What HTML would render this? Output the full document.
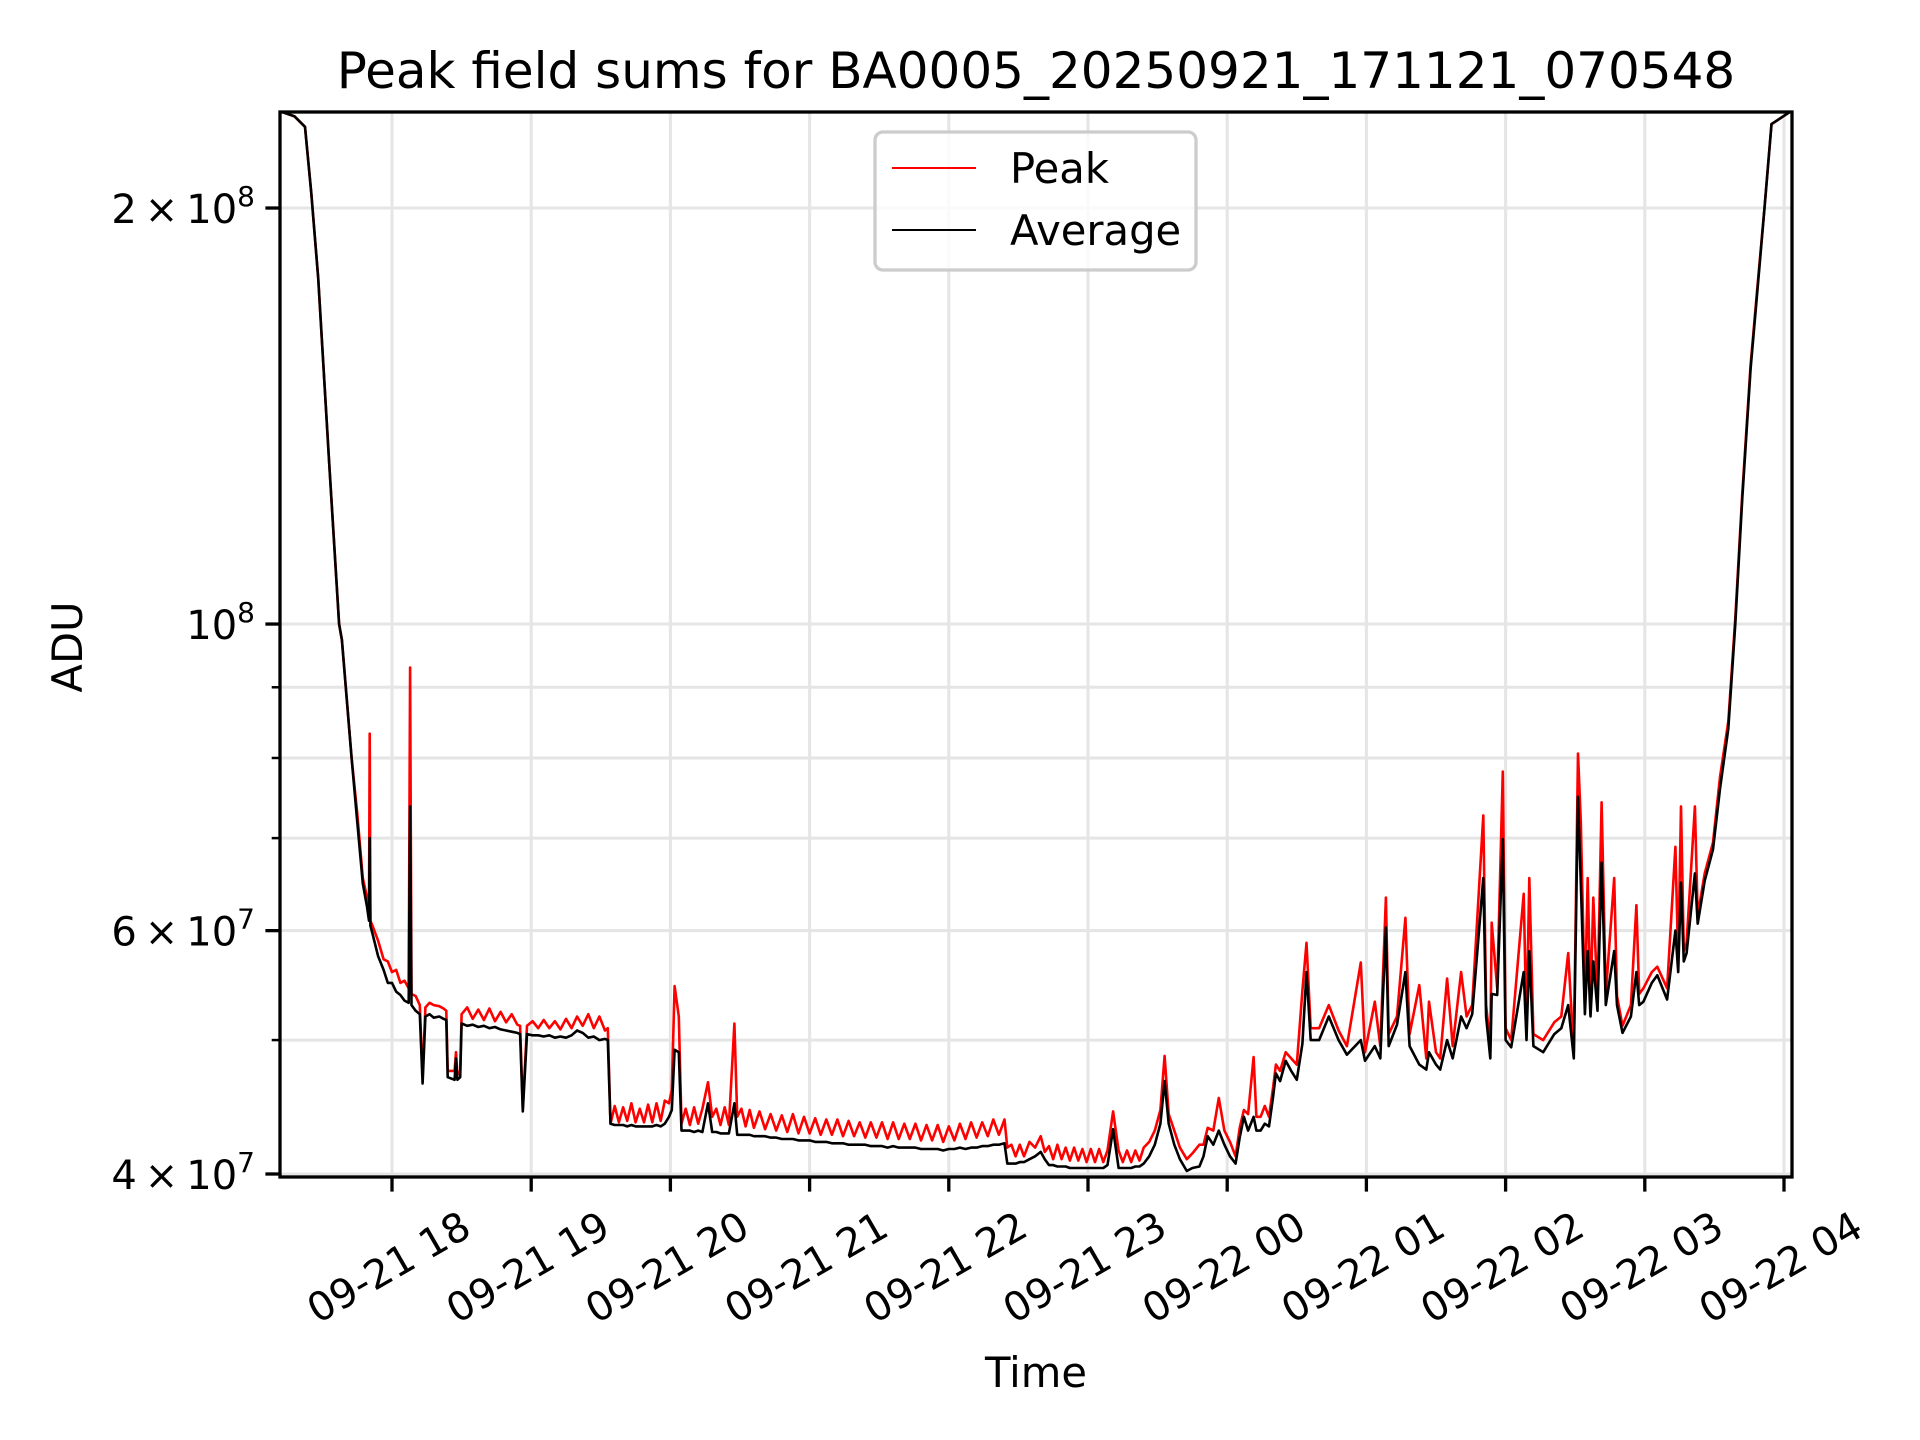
<!DOCTYPE html>
<html><head><meta charset="utf-8"><style>
html,body{margin:0;padding:0;background:#fff;}
svg{display:block;font-family:"DejaVu Sans","Liberation Sans",sans-serif;}
</style></head><body>
<svg id="chart" width="1920" height="1440" viewBox="0 0 1920 1440" xmlns="http://www.w3.org/2000/svg">
<rect x="0" y="0" width="1920" height="1440" fill="#fff"/>
<defs><clipPath id="plotclip"><rect x="280" y="112" width="1512" height="1065"/></clipPath></defs>
<g id="grid"></g>
<g id="series" clip-path="url(#plotclip)"></g>
<rect x="280" y="112" width="1512" height="1065" fill="none" stroke="#000" stroke-width="3.3"/>
<g id="ticks"></g>
<text x="1036" y="88" font-size="50" text-anchor="middle">Peak field sums for BA0005_20250921_171121_070548</text>
<text x="1036" y="1387" font-size="41.7" text-anchor="middle">Time</text>
<text x="0" y="0" font-size="41.7" text-anchor="middle" transform="translate(82,647) rotate(-90)">ADU</text>
<g>
<rect x="875" y="132" width="321" height="138" rx="8" fill="#fff" fill-opacity="0.8" stroke="#ccc" stroke-width="3.3"/>
<line x1="892" y1="168" x2="976" y2="168" stroke="#ff0000" stroke-width="2"/>
<text x="1010" y="183" font-size="41.7">Peak</text>
<line x1="892" y1="230" x2="976" y2="230" stroke="#000" stroke-width="2"/>
<text x="1010" y="245" font-size="41.7">Average</text>
</g>
</svg>
<script>
// hours since 09-21 17:00 (one line per segment; all three arrays share the same segmentation)
const times = [
0.195,0.30,0.375,0.42,0.47,0.55,0.62,0.64,0.71,0.75,0.79,0.82,0.835,0.84,0.845,0.86,0.90,0.94,0.97,1.00,1.03,1.06,1.09,1.12,1.13,1.14,1.17,1.20,1.22,1.24,1.27,1.30,1.34,1.37,1.39,1.40,1.45,1.46,1.47,1.49,
1.50,1.54,1.58,1.62,1.66,1.70,1.74,1.78,1.82,1.86,1.90,1.92,1.94,1.97,2.01,2.05,2.09,2.13,2.17,2.21,2.25,2.29,2.33,2.37,2.41,2.45,2.49,2.53,2.55,
2.57,2.60,2.63,2.66,2.69,2.72,2.75,2.78,2.81,2.84,2.87,2.90,2.93,2.96,2.99,3.01,3.03,3.06,3.08,3.11,3.14,3.17,3.20,3.23,3.27,3.30,3.33,3.36,3.39,3.42,3.46,3.48,3.51,3.54,3.57,3.60,3.64,
3.68,3.72,3.76,3.80,3.84,3.88,3.92,3.96,4.00,4.04,4.08,4.12,4.16,4.20,4.24,4.28,4.32,4.36,4.40,4.44,4.48,4.52,4.56,4.60,4.64,4.68,4.72,4.76,4.80,4.84,4.88,4.92,4.96,5.00,5.04,5.08,5.12,5.16,5.20,5.24,5.28,5.32,5.36,5.40,5.42,
5.45,5.48,5.51,5.54,5.58,5.62,5.66,5.69,5.72,5.75,5.78,5.81,5.84,5.87,5.90,5.93,5.96,5.99,6.02,6.05,6.08,6.11,6.14,6.18,6.22,6.25,6.28,6.31,6.34,6.37,6.40,6.44,6.48,6.52,6.55,6.58,6.62,6.66,6.71,6.75,6.80,6.83,6.86,6.90,6.94,6.98,7.02,7.06,7.09,7.12,7.15,7.19,7.21,7.24,7.27,7.30,7.33,7.35,7.38,7.42,7.46,7.50,7.54,
7.57,7.60,7.66,7.73,7.80,7.86,7.96,7.99,8.06,8.10,8.14,8.16,8.22,8.28,8.31,8.38,8.43,8.45,8.50,8.53,8.58,8.62,8.68,8.72,8.76,8.84,8.86,8.89,8.90,8.94,8.98,9.00,9.04,9.13,9.15,9.17,9.20,9.27,9.35,9.40,9.45,9.49,9.52,9.54,9.57,9.59,9.61,9.63,9.66,9.69,9.72,9.78,9.80,9.84,9.90,9.94,9.96,9.99,10.05,10.09,10.16,10.22,10.24,10.26,10.28,10.30,10.36,10.38,10.43,10.49,10.54,10.60,10.65,10.70,10.76,10.81,10.86,10.91,11.05];
// average values, units of 1e7 ADU
const avgValues = [
23.5,23.3,22.9,20.5,17.8,13.0,10.0,9.74,8.0,7.2,6.49,6.25,6.1,7.0,6.05,5.97,5.75,5.62,5.5,5.5,5.42,5.39,5.34,5.32,7.38,5.3,5.25,5.22,4.65,5.2,5.22,5.19,5.2,5.18,5.17,4.7,4.68,4.85,4.68,4.7,
5.14,5.12,5.13,5.11,5.12,5.10,5.11,5.09,5.08,5.07,5.06,5.05,4.44,5.05,5.04,5.04,5.03,5.04,5.02,5.03,5.02,5.04,5.08,5.06,5.02,5.03,5.0,5.01,5.0,
4.35,4.34,4.34,4.34,4.33,4.34,4.33,4.33,4.33,4.33,4.33,4.34,4.33,4.35,4.4,4.45,4.92,4.9,4.3,4.3,4.3,4.29,4.3,4.29,4.5,4.29,4.29,4.28,4.28,4.28,4.5,4.27,4.27,4.27,4.27,4.26,4.26,
4.26,4.25,4.25,4.24,4.24,4.24,4.23,4.23,4.23,4.22,4.22,4.22,4.21,4.21,4.21,4.2,4.2,4.2,4.2,4.19,4.19,4.19,4.18,4.19,4.18,4.18,4.18,4.18,4.17,4.17,4.17,4.17,4.16,4.17,4.17,4.18,4.17,4.18,4.18,4.19,4.19,4.2,4.2,4.21,4.07,
4.07,4.07,4.08,4.08,4.1,4.12,4.15,4.1,4.06,4.06,4.05,4.05,4.05,4.04,4.04,4.04,4.04,4.04,4.04,4.04,4.04,4.04,4.06,4.31,4.04,4.04,4.04,4.04,4.05,4.05,4.07,4.12,4.2,4.35,4.67,4.35,4.2,4.1,4.02,4.04,4.05,4.12,4.26,4.2,4.3,4.2,4.12,4.07,4.25,4.4,4.3,4.4,4.3,4.3,4.35,4.33,4.55,4.73,4.67,4.83,4.75,4.68,4.97,
5.6,5.0,5.0,5.2,5.0,4.88,5.0,4.83,4.95,4.85,6.03,4.95,5.13,5.6,4.95,4.8,4.76,4.9,4.8,4.76,5.0,4.85,5.2,5.1,5.22,6.55,5.2,4.85,5.4,5.39,6.99,5.0,4.94,5.6,5.0,5.8,4.95,4.9,5.05,5.1,5.3,4.85,7.5,6.5,5.22,5.8,5.2,5.7,5.25,6.72,5.3,5.8,5.3,5.06,5.2,5.6,5.3,5.33,5.5,5.57,5.35,6.0,5.6,6.5,5.7,5.78,6.6,6.07,6.52,6.87,7.6,8.4,10.0,12.3,15.3,17.5,20.0,23.0,23.5];
// peak values, units of 1e7 ADU
const peakValues = [
23.5,23.3,22.9,20.5,17.8,13.0,10.0,9.74,8.0,7.3,6.55,6.35,6.2,8.33,6.1,6.05,5.9,5.72,5.7,5.6,5.62,5.5,5.52,5.45,9.3,5.4,5.38,5.3,4.7,5.28,5.32,5.3,5.29,5.27,5.25,4.75,4.75,4.9,4.72,4.75,
5.22,5.28,5.18,5.26,5.17,5.27,5.16,5.24,5.15,5.22,5.13,5.12,4.46,5.12,5.16,5.1,5.17,5.1,5.16,5.09,5.18,5.1,5.2,5.12,5.22,5.1,5.2,5.08,5.1,
4.35,4.48,4.36,4.47,4.37,4.5,4.36,4.46,4.36,4.49,4.36,4.5,4.37,4.52,4.5,4.6,5.47,5.2,4.35,4.46,4.34,4.47,4.35,4.46,4.66,4.4,4.46,4.34,4.47,4.34,5.14,4.4,4.46,4.33,4.45,4.32,4.44,
4.31,4.42,4.3,4.41,4.29,4.42,4.28,4.4,4.28,4.39,4.27,4.38,4.27,4.38,4.26,4.37,4.26,4.36,4.25,4.36,4.25,4.36,4.24,4.36,4.24,4.35,4.24,4.35,4.23,4.34,4.23,4.34,4.22,4.33,4.23,4.35,4.24,4.36,4.25,4.36,4.26,4.38,4.27,4.38,4.18,
4.2,4.12,4.2,4.12,4.22,4.18,4.26,4.15,4.19,4.1,4.2,4.1,4.18,4.09,4.18,4.09,4.17,4.08,4.17,4.08,4.17,4.08,4.16,4.44,4.16,4.08,4.16,4.08,4.16,4.09,4.18,4.22,4.3,4.45,4.87,4.42,4.3,4.18,4.1,4.14,4.2,4.2,4.32,4.3,4.54,4.3,4.22,4.12,4.32,4.45,4.42,4.86,4.4,4.4,4.48,4.4,4.62,4.8,4.75,4.9,4.85,4.8,5.43,
5.88,5.1,5.1,5.3,5.08,4.95,5.69,4.9,5.33,4.95,6.34,5.05,5.2,6.13,5.05,5.48,4.85,5.33,4.9,4.85,5.54,4.95,5.6,5.2,5.3,7.27,5.3,4.95,6.08,5.45,7.82,5.1,5.0,6.38,5.1,6.55,5.05,5.0,5.15,5.2,5.78,4.9,8.06,7.2,5.3,6.55,5.3,6.34,5.35,7.43,5.4,6.55,5.38,5.12,5.3,6.26,5.4,5.45,5.6,5.65,5.45,6.9,5.7,7.38,5.8,5.88,7.38,6.15,6.6,6.95,7.75,8.5,10.1,12.4,15.4,17.6,20.0,23.0,23.5];
const xTickHours = [1,2,3,4,5,6,7,8,9,10,11];
const xTickLabels = ["09-21 18","09-21 19","09-21 20","09-21 21","09-21 22","09-21 23","09-22 00","09-22 01","09-22 02","09-22 03","09-22 04"];
const yMajorValues = [4,6,10,20];
const yMajorMant = ["4","6","","2"];
const yMajorExp = ["7","7","8","8"];
const yMinorValues = [5,7,8,9];

const NS = "http://www.w3.org/2000/svg";
const PX_PER_HOUR = 139.2, X0 = 392;
function xScale(h){ return X0 + (h - 1) * PX_PER_HOUR; }
function yScale(v){ return 1174 - 1382 * Math.log10(v / 4); }
function mk(tag, attrs, parent){ const e = document.createElementNS(NS, tag); for (const k in attrs) e.setAttribute(k, attrs[k]); parent.appendChild(e); return e; }

const grid = document.getElementById('grid');
const ticks = document.getElementById('ticks');
const series = document.getElementById('series');

xTickHours.forEach((h, i) => {
  const x = xScale(h);
  const g = mk('line', {x1:x, y1:112, x2:x, y2:1177, stroke:'#e5e5e5', 'stroke-width':3}, grid);
  
  
  const t = mk('line', {x1:x, y1:1177, x2:x, y2:1191.6, stroke:'#000', 'stroke-width':3.3}, ticks);
  
  
  const lbl = mk('text', {x:0, y:0, 'font-size':40, 'text-anchor':'middle', 'dominant-baseline':'central', transform:'translate(' + (x - 3) + ',1268) rotate(-30)'}, ticks);
  lbl.textContent = xTickLabels[i];
  
  
});

yMinorValues.concat(yMajorValues).forEach(v => {
  const y = yScale(v);
  const g = mk('line', {x1:280, y1:y, x2:1792, y2:y, stroke:'#e5e5e5', 'stroke-width':3}, grid);
  
  
});
yMinorValues.forEach(v => {
  const y = yScale(v);
  const t = mk('line', {x1:271.7, y1:y, x2:280, y2:y, stroke:'#000', 'stroke-width':2.5}, ticks);
  
  
});
yMajorValues.forEach((v, i) => {
  const y = yScale(v);
  const t = mk('line', {x1:265.4, y1:y, x2:280, y2:y, stroke:'#000', 'stroke-width':3.3}, ticks);
  
  
  const lbl = mk('text', {x:255, y:y + 15, 'font-size':40, 'text-anchor':'end'}, ticks);
  
  
  const pre = yMajorMant[i] ? yMajorMant[i] + '\u2009\u00d7\u200910' : '10';
  const t1 = mk('tspan', {}, lbl); t1.textContent = pre;
  const t2 = mk('tspan', {dy:-17, 'font-size':28}, lbl); t2.textContent = yMajorExp[i];
});

function pathFor(vals){
  let d = '';
  for (let i = 0; i < times.length; i++) d += (i ? 'L' : 'M') + xScale(times[i]).toFixed(1) + ',' + yScale(vals[i]).toFixed(1);
  return d;
}
const peak = mk('path', {d:pathFor(peakValues), fill:'none', stroke:'#ff0000', 'stroke-width':2.6, 'stroke-linejoin':'round'}, series);


const avg = mk('path', {d:pathFor(avgValues), fill:'none', stroke:'#000', 'stroke-width':2.6, 'stroke-linejoin':'round'}, series);


</script>
</body></html>
